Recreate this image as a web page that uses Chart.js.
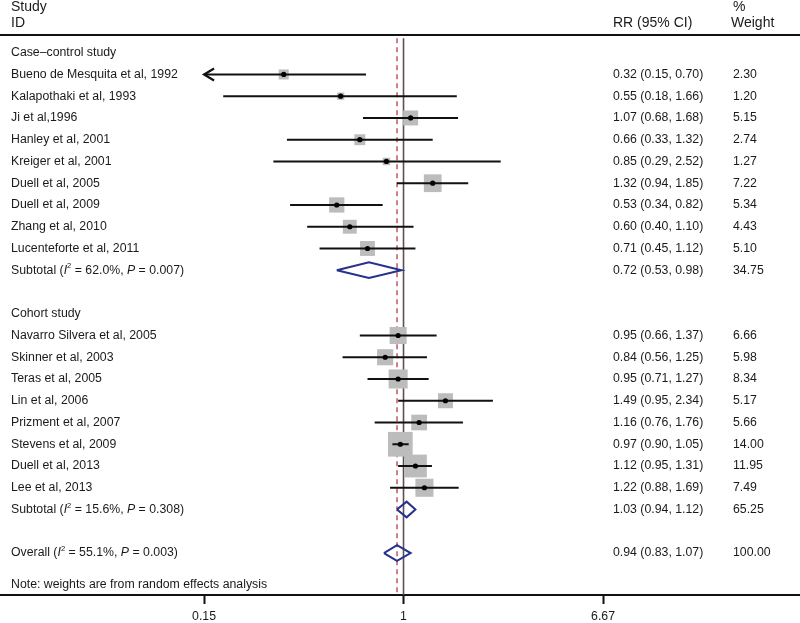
<!DOCTYPE html>
<html>
<head>
<meta charset="utf-8">
<script src="https://cdn.jsdelivr.net/npm/chart.js@4/dist/chart.umd.min.js"></script>
<style>
  html, body { margin: 0; padding: 0; background: #fff; }
</style>
</head>
<body>
<canvas id="forest" width="800" height="623"></canvas>
<script>
/* global Chart */

const caseStudies = ['Bueno de Mesquita et al, 1992', 'Kalapothaki et al, 1993', 'Ji et al,1996', 'Hanley et al, 2001',
  'Kreiger et al, 2001', 'Duell et al, 2005', 'Duell et al, 2009', 'Zhang et al, 2010', 'Lucenteforte et al, 2011'];
const caseRR = [0.32, 0.55, 1.07, 0.66, 0.85, 1.32, 0.53, 0.60, 0.71];
const caseLow = [0.15, 0.18, 0.68, 0.33, 0.29, 0.94, 0.34, 0.40, 0.45];
const caseHigh = [0.70, 1.66, 1.68, 1.32, 2.52, 1.85, 0.82, 1.10, 1.12];
const caseWeight = [2.30, 1.20, 5.15, 2.74, 1.27, 7.22, 5.34, 4.43, 5.10];

const cohortStudies = ['Navarro Silvera et al, 2005', 'Skinner et al, 2003', 'Teras et al, 2005', 'Lin et al, 2006',
  'Prizment et al, 2007', 'Stevens et al, 2009', 'Duell et al, 2013', 'Lee et al, 2013'];
const cohortRR = [0.95, 0.84, 0.95, 1.49, 1.16, 0.97, 1.12, 1.22];
const cohortLow = [0.66, 0.56, 0.71, 0.95, 0.76, 0.90, 0.95, 0.88];
const cohortHigh = [1.37, 1.25, 1.27, 2.34, 1.76, 1.05, 1.31, 1.69];
const cohortWeight = [6.66, 5.98, 8.34, 5.17, 5.66, 14.00, 11.95, 7.49];

const groupNames = ['Case\u2013control study', 'Cohort study'];
const subRR = [0.72, 1.03];
const subLow = [0.53, 0.94];
const subHigh = [0.98, 1.12];
const subWeight = [34.75, 65.25];
const subI2 = ['62.0', '15.6'];
const subP = ['0.007', '0.308'];

const overallRR = 0.94, overallLow = 0.83, overallHigh = 1.07, overallWeight = 100.00;
const overallI2 = '55.1', overallP = '0.003';

const xTicks = [0.15, 1, 6.67];
const noteText = 'Note: weights are from random effects analysis';

// build the row list (row index = vertical position in the plot)
const groups = [
  {name: groupNames[0], studies: caseStudies, rr: caseRR, lo: caseLow, hi: caseHigh, w: caseWeight},
  {name: groupNames[1], studies: cohortStudies, rr: cohortRR, lo: cohortLow, hi: cohortHigh, w: cohortWeight}
];
const rows = [];
let r = 0;
groups.forEach((g, gi) => {
  rows.push({type: 'head', label: g.name, y: r++});
  g.studies.forEach((s, i) => rows.push({type: 'study', label: s, rr: g.rr[i], lo: g.lo[i], hi: g.hi[i], w: g.w[i], y: r++}));
  rows.push({type: 'sub', label: 'Subtotal', i2: subI2[gi], p: subP[gi], rr: subRR[gi], lo: subLow[gi], hi: subHigh[gi], w: subWeight[gi], y: r++});
  r++;
});
rows.push({type: 'sub', label: 'Overall', i2: overallI2, p: overallP, rr: overallRR, lo: overallLow, hi: overallHigh, w: overallWeight, y: r++});

const studyRows = rows.filter(d => d.type === 'study');
const diamondRows = rows.filter(d => d.type === 'sub');

const Y_MIN = -0.814, Y_MAX = 24.93;
const FONT = 'Liberation Sans, Arial, Helvetica, sans-serif';
const TXT = '#1a1a1a';

const datasets = [];
// reference lines
datasets.push({data: [{x: 1, y: -0.66}, {x: 1, y: Y_MAX}], showLine: true, borderColor: '#5e5050', borderWidth: 1.6, pointRadius: 0, order: 20});
datasets.push({data: [{x: overallRR, y: -0.66}, {x: overallRR, y: Y_MAX}], showLine: true, borderColor: '#c4606c', borderWidth: 1.6, borderDash: [5, 4], pointRadius: 0, order: 19});
// weight boxes
datasets.push({
  data: studyRows.map(d => ({x: d.rr, y: d.y, w: d.w})),
  pointStyle: 'rect', backgroundColor: '#bcbcbc', borderWidth: 0,
  pointRadius: ctx => 6.6 * Math.sqrt(ctx.raw.w) / Math.SQRT2,
  order: 15
});
// confidence intervals
studyRows.forEach(d => {
  datasets.push({data: [{x: d.lo, y: d.y}, {x: d.hi, y: d.y}], showLine: true, borderColor: '#111', borderWidth: 2, pointRadius: 0, order: 5});
});
// point estimates
datasets.push({data: studyRows.map(d => ({x: d.rr, y: d.y})), pointStyle: 'circle', backgroundColor: '#000', borderWidth: 0, pointRadius: 2.6, order: 1});
// pooled diamonds
diamondRows.forEach(d => {
  const h = 0.36;
  datasets.push({
    data: [{x: d.lo, y: d.y}, {x: d.rr, y: d.y - h}, {x: d.hi, y: d.y}, {x: d.rr, y: d.y + h}, {x: d.lo, y: d.y}],
    showLine: true, borderColor: '#25318c', borderWidth: 2, pointRadius: 0, order: 3
  });
});

function drawRuns(ctx, x, y, runs, size) {
  for (const run of runs) {
    const fs = run.sup ? size * 0.62 : size;
    ctx.font = (run.italic ? 'italic ' : '') + fs + 'px ' + FONT;
    ctx.fillText(run.t, x, run.sup ? y - size * 0.32 : y);
    x += ctx.measureText(run.t).width;
  }
}

const textPlugin = {
  id: 'forestText',
  afterDatasetsDraw(chart) {
    const ctx = chart.ctx;
    const xs = chart.scales.x, ys = chart.scales.y;
    ctx.save();
    // arrows for intervals that run off the axis
    ctx.strokeStyle = '#111';
    ctx.lineWidth = 2.2;
    studyRows.forEach(d => {
      if (d.lo <= xTicks[0]) {
        const px = xs.getPixelForValue(d.lo), py = ys.getPixelForValue(d.y);
        ctx.beginPath();
        ctx.moveTo(px + 10, py - 6);
        ctx.lineTo(px, py);
        ctx.lineTo(px + 10, py + 6);
        ctx.stroke();
      }
    });
    ctx.restore();
  },
  afterDraw(chart) {
    const ctx = chart.ctx;
    const ys = chart.scales.y;
    const size = 12.3;
    ctx.save();
    ctx.fillStyle = TXT;
    ctx.textBaseline = 'middle';
    ctx.textAlign = 'left';
    // header
    ctx.font = '14px ' + FONT;
    ctx.fillText('Study', 11, 7);
    ctx.fillText('ID', 11, 23);
    ctx.fillText('RR (95% CI)', 613, 23);
    ctx.fillText('%', 733, 7);
    ctx.fillText('Weight', 731, 23);
    ctx.strokeStyle = '#111';
    ctx.lineWidth = 2;
    ctx.beginPath();
    ctx.moveTo(0, 35);
    ctx.lineTo(800, 35);
    ctx.stroke();

    rows.forEach(d => {
      const py = ys.getPixelForValue(d.y);
      ctx.font = size + 'px ' + FONT;
      if (d.type === 'sub') {
        drawRuns(ctx, 11, py, [
          {t: d.label + ' ('}, {t: 'I', italic: true}, {t: '2', sup: true},
          {t: ' = ' + d.i2 + '%, '}, {t: 'P', italic: true}, {t: ' = ' + d.p + ')'}
        ], size);
      } else {
        ctx.fillText(d.label, 11, py);
      }
      if (d.type !== 'head') {
        ctx.font = size + 'px ' + FONT;
        ctx.fillText(`${d.rr.toFixed(2)} (${d.lo.toFixed(2)}, ${d.hi.toFixed(2)})`, 613, py);
        ctx.fillText(d.w.toFixed(2), 733, py);
      }
    });
    ctx.font = size + 'px ' + FONT;
    ctx.fillText(noteText, 11, 585);
    ctx.restore();
  }
};

new Chart(document.getElementById('forest').getContext('2d'), {
  type: 'scatter',
  data: {datasets},
  options: {
    responsive: false,
    animation: false,
    layout: {autoPadding: false, padding: {top: 35, left: 0, right: 0, bottom: 0}},
    plugins: {legend: {display: false}, tooltip: {enabled: false}},
    scales: {
      x: {
        type: 'logarithmic',
        min: 0.02154, max: 43.42,
        bounds: 'data',
        afterBuildTicks: s => { s.ticks = xTicks.map(v => ({value: v})); },
        afterFit: s => { s.height = 28; s.paddingLeft = 0; s.paddingRight = 0; },
        ticks: {autoSkip: false, maxRotation: 0, padding: 5, color: TXT, font: {family: FONT, size: 12.3},
          callback: v => String(v)},
        grid: {display: true, drawOnChartArea: false, drawTicks: true, tickLength: 9, tickWidth: 2, tickColor: '#111'},
        border: {display: true, color: '#111', width: 2}
      },
      y: {
        type: 'linear', display: false, reverse: true, min: Y_MIN, max: Y_MAX
      }
    }
  },
  plugins: [textPlugin]
});
</script>
</body>
</html>
